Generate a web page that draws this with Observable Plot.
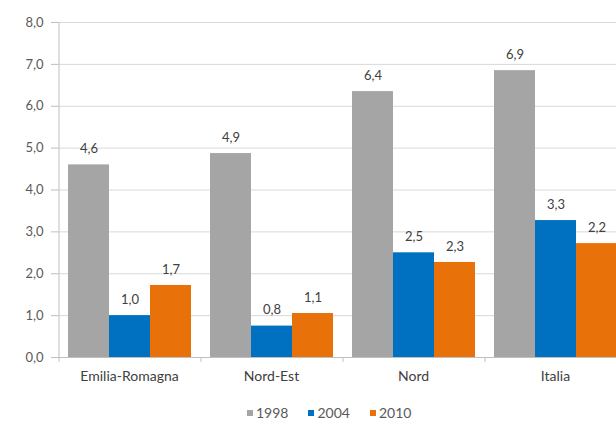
<!DOCTYPE html>
<html>
<head>
<meta charset="utf-8">
<script src="https://cdn.jsdelivr.net/npm/d3@7"></script>
<script src="https://cdn.jsdelivr.net/npm/@observablehq/plot@0.6"></script>
<style>
  html, body { margin: 0; padding: 0; background: #fff; overflow: hidden; width: 616px; height: 422px; }
  #chart svg { display: block; overflow: visible; }
  #legend { position: absolute; top: 404px; left: 247px; font: 14px Lato, "Open Sans", sans-serif; color: #595959; display: flex; white-space: nowrap; }
  #legend span.item { display: inline-flex; align-items: center; margin-right: 20px; }
  #legend span.sw { width: 6px; height: 6px; display: inline-block; margin-right: 3px; }
</style>
</head>
<body>
<div id="chart"></div>
<div id="legend"></div>
<script>
const categories = ["Emilia-Romagna", "Nord-Est", "Nord", "Italia"];
const series = ["1998", "2004", "2010"];
const values1998 = [4.6, 4.87, 6.35, 6.85];
const values2004 = [1.0, 0.75, 2.5, 3.27];
const values2010 = [1.72, 1.05, 2.27, 2.72];
const labels1998 = ["4,6", "4,9", "6,4", "6,9"];
const labels2004 = ["1,0", "0,8", "2,5", "3,3"];
const labels2010 = ["1,7", "1,1", "2,3", "2,2"];
const colors = ["#a5a5a5", "#0070c0", "#e8710a"];
const yTicks = [0, 1, 2, 3, 4, 5, 6, 7, 8];

const allValues = [values1998, values2004, values2010];
const allLabels = [labels1998, labels2004, labels2010];
const data = [];
categories.forEach((c, i) => {
  series.forEach((s, j) => {
    data.push({category: c, series: s, value: allValues[j][i], label: allLabels[j][i]});
  });
});
const catRows = categories.map(c => ({category: c}));

const fmt = d => d3.format(".1f")(d).replace(".", ",");
const font = "Lato, 'Open Sans', sans-serif";
const padOuter = 0.23;
const stepPx = 142 / (3 + 2 * padOuter);
const leftShift = -(padOuter * stepPx + stepPx / 2);

const chart = Plot.plot({
  width: 616,
  height: 395,
  marginLeft: 57,
  marginRight: -11,
  marginTop: 22,
  marginBottom: 38,
  style: {fontFamily: font, fontSize: "12px", color: "#595959", background: "#fff"},
  x: {domain: series, paddingInner: 0, paddingOuter: padOuter, axis: null},
  fx: {domain: categories, padding: 0, axis: null},
  y: {domain: [0, 8], label: null, axis: null},
  color: {domain: series, range: colors},
  marks: [
    Plot.ruleY(yTicks.filter(d => d > 0), {stroke: "#d9d9d9", strokeWidth: 1}),
    Plot.axisFx({anchor: "bottom", tickSize: 0, tickPadding: 14, fontSize: 14, fill: "#404040", label: null}),
    Plot.axisY({ticks: yTicks, tickFormat: fmt, tickSize: 7, tickPadding: 8, stroke: "#bfbfbf", fill: "#595959", fontSize: 13, label: null}),
    Plot.barY(data, {fx: "category", x: "series", y: "value", fill: "series"}),
    Plot.text(data, {fx: "category", x: "series", y: "value", text: "label", dy: -16, fill: "#404040", fontSize: 13}),
    Plot.ruleY([0], {stroke: "#bfbfbf"}),
    Plot.ruleX(catRows.slice(0, 1), {fx: "category", x: () => "1998", y1: 0, y2: 8, dx: leftShift, stroke: "#bfbfbf"}),
    Plot.ruleX(catRows, {fx: "category", x: () => "1998", y1: 0, y2: 0, insetBottom: -5, dx: leftShift, stroke: "#bfbfbf"})
  ]
});
document.getElementById("chart").appendChild(chart);

const legend = document.getElementById("legend");
series.forEach((s, j) => {
  const item = document.createElement("span");
  item.className = "item";
  const sw = document.createElement("span");
  sw.className = "sw";
  sw.style.background = colors[j];
  item.appendChild(sw);
  item.appendChild(document.createTextNode(s));
  legend.appendChild(item);
});
</script>
</body>
</html>
